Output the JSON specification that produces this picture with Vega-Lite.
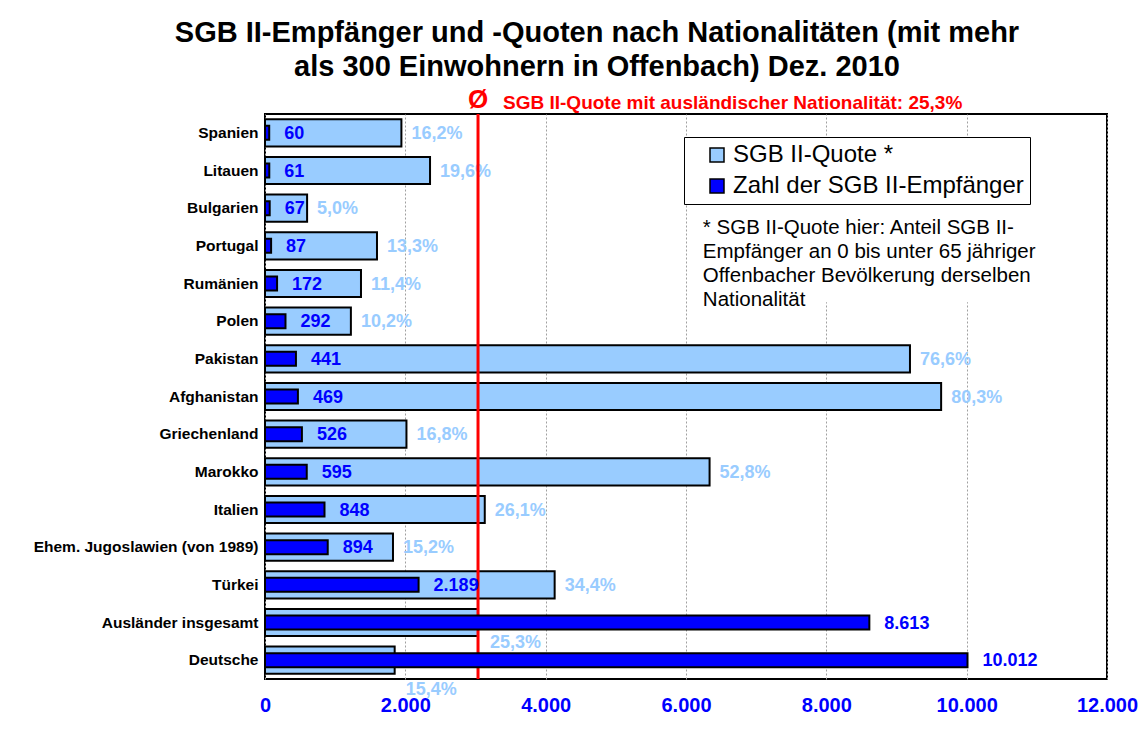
{
  "$schema": "https://vega.github.io/schema/vega-lite/v6.json",
  "width": 842,
  "height": 565,
  "autosize": {"type": "none"},
  "padding": {"left": 265, "top": 114, "right": 41, "bottom": 60},
  "background": "white",
  "title": {
    "text": ["SGB II-Empfänger und -Quoten nach Nationalitäten (mit mehr", "als 300 Einwohnern in Offenbach) Dez. 2010"],
    "fontSize": 29,
    "fontWeight": "bold",
    "font": "Liberation Sans",
    "color": "black",
    "anchor": "middle",
    "frame": "group",
    "dx": -89,
    "lineHeight": 34,
    "offset": 5
  },
  "data": {
    "values": [
      {"nat": "Spanien", "count": 60, "quote": 0.162},
      {"nat": "Litauen", "count": 61, "quote": 0.196},
      {"nat": "Bulgarien", "count": 67, "quote": 0.050},
      {"nat": "Portugal", "count": 87, "quote": 0.133},
      {"nat": "Rumänien", "count": 172, "quote": 0.114},
      {"nat": "Polen", "count": 292, "quote": 0.102},
      {"nat": "Pakistan", "count": 441, "quote": 0.766},
      {"nat": "Afghanistan", "count": 469, "quote": 0.803},
      {"nat": "Griechenland", "count": 526, "quote": 0.168},
      {"nat": "Marokko", "count": 595, "quote": 0.528},
      {"nat": "Italien", "count": 848, "quote": 0.261},
      {"nat": "Ehem. Jugoslawien (von 1989)", "count": 894, "quote": 0.152},
      {"nat": "Türkei", "count": 2189, "quote": 0.344},
      {"nat": "Ausländer insgesamt", "count": 8613, "quote": 0.253},
      {"nat": "Deutsche", "count": 10012, "quote": 0.154}
    ]
  },
  "layer": [
    {
      "layer": [
        {
          "mark": {"type": "bar", "height": {"band": 0.72}, "stroke": "black", "strokeWidth": 2},
          "encoding": {
            "y": {"field": "nat", "type": "nominal", "sort": null,
              "scale": {"domain": ["Spanien", "Litauen", "Bulgarien", "Portugal", "Rumänien", "Polen", "Pakistan", "Afghanistan", "Griechenland", "Marokko", "Italien", "Ehem. Jugoslawien (von 1989)", "Türkei", "Ausländer insgesamt", "Deutsche"], "paddingInner": 0, "paddingOuter": 0},
              "axis": {"title": null, "labelFontSize": 15.5, "labelFontWeight": "bold", "labelColor": "black", "ticks": false, "domain": false, "labelPadding": 7, "labelLimit": 400}},
            "x": {"field": "quote", "type": "quantitative", "scale": {"domain": [0, 1], "nice": false, "zero": true}, "axis": null},
            "color": {"datum": "SGB II-Quote *", "type": "nominal",
              "scale": {"domain": ["SGB II-Quote *", "Zahl der SGB II-Empfänger"], "range": ["#99CCFF", "#0000FF"]},
              "legend": {"orient": "none", "legendX": 419, "legendY": 23, "title": null, "symbolType": "square", "symbolSize": 196, "symbolStrokeColor": "black", "symbolStrokeWidth": 1.5, "labelFontSize": 24, "labelFont": "Liberation Sans", "labelColor": "black", "strokeColor": "black", "fillColor": "white", "padding": 6, "symbolOffset": 15, "labelOffset": 4, "rowPadding": 7, "labelLimit": 0}}
          }
        },
        {
          "transform": [{"filter": {"not": {"field": "nat", "oneOf": ["Ausländer insgesamt", "Deutsche"]}}}],
          "mark": {"type": "text", "align": "left", "baseline": "middle", "dx": 10, "dy": 1, "fontSize": 18, "fontWeight": "bold", "color": "#99CCFF"},
          "encoding": {
            "y": {"field": "nat", "type": "nominal"},
            "x": {"field": "quote", "type": "quantitative", "scale": {"domain": [0, 1], "nice": false}},
            "text": {"field": "quote", "type": "quantitative", "format": ".1%"}
          }
        },
        {
          "transform": [{"filter": {"field": "nat", "equal": "Ausländer insgesamt"}}],
          "mark": {"type": "text", "align": "left", "baseline": "middle", "dx": 12, "dy": 20, "fontSize": 18, "fontWeight": "bold", "color": "#99CCFF"},
          "encoding": {
            "y": {"field": "nat", "type": "nominal"},
            "x": {"field": "quote", "type": "quantitative", "scale": {"domain": [0, 1], "nice": false}},
            "text": {"field": "quote", "type": "quantitative", "format": ".1%"}
          }
        },
        {
          "transform": [{"filter": {"field": "nat", "equal": "Deutsche"}}],
          "mark": {"type": "text", "align": "left", "baseline": "middle", "dx": 11, "dy": 30, "fontSize": 18, "fontWeight": "bold", "color": "#99CCFF"},
          "encoding": {
            "y": {"field": "nat", "type": "nominal"},
            "x": {"field": "quote", "type": "quantitative", "scale": {"domain": [0, 1], "nice": false}},
            "text": {"field": "quote", "type": "quantitative", "format": ".1%"}
          }
        },
        {
          "data": {"values": [{"avg": 0.253}]},
          "mark": {"type": "rule", "color": "#FF0000", "strokeWidth": 3},
          "encoding": {
            "x": {"field": "avg", "type": "quantitative", "scale": {"domain": [0, 1], "nice": false}}
          }
        },
        {
          "data": {"values": [{"avg": 0.253, "nat": "Spanien"}]},
          "mark": {"type": "text", "text": "Ø", "align": "center", "baseline": "middle", "dy": -33, "fontSize": 26, "fontWeight": "bold", "color": "#FF0000"},
          "encoding": {
            "y": {"field": "nat", "type": "nominal"},
            "x": {"field": "avg", "type": "quantitative", "scale": {"domain": [0, 1], "nice": false}}
          }
        },
        {
          "data": {"values": [{"avg": 0.253, "nat": "Spanien"}]},
          "mark": {"type": "text", "text": "SGB II-Quote mit ausländischer Nationalität: 25,3%", "align": "left", "baseline": "middle", "dx": 25, "dy": -30, "fontSize": 19, "fontWeight": "bold", "color": "#FF0000"},
          "encoding": {
            "y": {"field": "nat", "type": "nominal"},
            "x": {"field": "avg", "type": "quantitative", "scale": {"domain": [0, 1], "nice": false}}
          }
        }
      ]
    },
    {
      "layer": [
        {
          "data": {"values": [{"nat": "Bulgarien"}, {"nat": "Portugal"}, {"nat": "Rumänien"}]},
          "mark": {"type": "rect", "fill": "white"},
          "encoding": {
            "y": {"field": "nat", "type": "nominal"},
            "x": {"datum": 6100, "type": "quantitative", "scale": {"domain": [0, 12000], "nice": false}},
            "x2": {"datum": 11000}
          }
        },
        {
          "mark": {"type": "bar", "height": {"band": 0.37}, "stroke": "black", "strokeWidth": 2},
          "encoding": {
            "y": {"field": "nat", "type": "nominal"},
            "x": {"field": "count", "type": "quantitative", "scale": {"domain": [0, 12000], "nice": false},
              "axis": {"title": null, "orient": "bottom", "values": [0, 2000, 4000, 6000, 8000, 10000, 12000], "format": ",.0f", "labelFontSize": 20, "labelFontWeight": "bold", "labelColor": "#0000FF", "ticks": false, "domain": false, "labelPadding": 16, "grid": true, "gridColor": "#A0A0A0", "gridDash": [2, 2], "gridWidth": 1, "labelFlush": false, "labelOverlap": false}},
            "color": {"datum": "Zahl der SGB II-Empfänger", "type": "nominal"}
          }
        },
        {
          "mark": {"type": "text", "align": "left", "baseline": "middle", "dx": 15, "dy": 1, "fontSize": 18, "fontWeight": "bold", "color": "#0000FF"},
          "encoding": {
            "y": {"field": "nat", "type": "nominal"},
            "x": {"field": "count", "type": "quantitative", "scale": {"domain": [0, 12000], "nice": false}},
            "text": {"field": "count", "type": "quantitative", "format": ",d"}
          }
        },
        {
          "data": {"values": [{"nat": "Bulgarien", "pos": 6240}]},
          "mark": {"type": "text", "text": ["* SGB II-Quote hier: Anteil SGB II-", "Empfänger an 0 bis unter 65 jähriger", "Offenbacher Bevölkerung derselben", "Nationalität"], "align": "left", "baseline": "top", "dy": 10, "fontSize": 20.5, "lineHeight": 24, "color": "black"},
          "encoding": {
            "y": {"field": "nat", "type": "nominal"},
            "x": {"field": "pos", "type": "quantitative", "scale": {"domain": [0, 12000], "nice": false}}
          }
        }
      ]
    }
  ],
  "resolve": {"scale": {"x": "independent"}},
  "config": {
    "font": "Liberation Sans",
    "view": {"stroke": "black", "strokeWidth": 2},
    "locale": {"number": {"decimal": ",", "thousands": ".", "grouping": [3], "currency": ["", " €"]}}
  }
}
